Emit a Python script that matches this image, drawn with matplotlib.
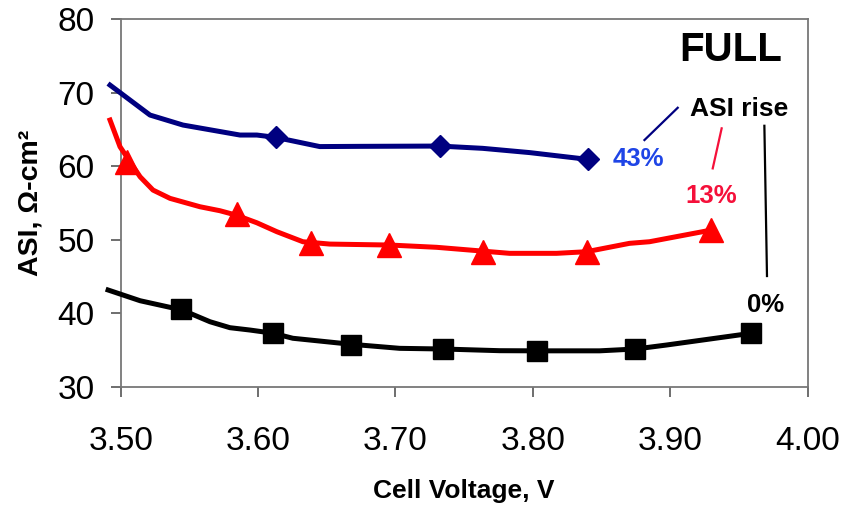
import matplotlib
matplotlib.use("Agg")
import matplotlib.pyplot as plt

plt.rcParams['font.family'] = ['Liberation Sans', 'DejaVu Sans']

# Smoothed ASI curves (cell voltage, V -> ASI, ohm-cm2)
v43_curve = [3.4922, 3.5213, 3.5453, 3.5868, 3.5991, 3.6129, 3.6449, 3.6740,
             3.7322, 3.7635, 3.7977, 3.8399]
asi43_curve = [71.05, 66.97, 65.61, 64.25, 64.25, 63.93, 62.68, 62.71,
               62.75, 62.44, 61.86, 60.94]

v13_curve = [3.4922, 3.4995, 3.5141, 3.5235, 3.5359, 3.5577, 3.5722, 3.5839,
             3.5991, 3.6137, 3.6326, 3.6522, 3.6958, 3.7300, 3.7831, 3.8173,
             3.8391, 3.8704, 3.8850, 3.9300]
asi13_curve = [66.29, 62.65, 58.57, 56.76, 55.63, 54.49, 53.95, 53.36,
               52.31, 51.09, 49.73, 49.41, 49.28, 48.97, 48.15, 48.15,
               48.37, 49.51, 49.73, 51.32]

v0_curve = [3.4908, 3.5141, 3.5359, 3.5439, 3.5504, 3.5650, 3.5795, 3.5941,
            3.6108, 3.6253, 3.6679, 3.7031, 3.7344, 3.7759, 3.8028, 3.8486,
            3.8748, 3.8973, 3.9591]
asi0_curve = [43.16, 41.70, 40.80, 40.54, 39.99, 38.84, 38.03, 37.71,
              37.28, 36.59, 35.77, 35.22, 35.13, 34.90, 34.88, 34.88,
              35.13, 35.67, 37.27]

# Measured points
v43_pts = [3.6127, 3.7322, 3.8400]
asi43_pts = [63.93, 62.75, 60.94]

v13_pts = [3.5044, 3.5844, 3.6384, 3.6953, 3.7640, 3.8391, 3.9298]
asi13_pts = [60.61, 53.50, 49.59, 49.28, 48.37, 48.37, 51.32]

v0_pts = [3.5437, 3.6109, 3.6679, 3.7347, 3.8031, 3.8746, 3.9589]
asi0_pts = [40.54, 37.28, 35.74, 35.13, 34.88, 35.16, 37.27]

x_ticks = [3.50, 3.60, 3.70, 3.80, 3.90, 4.00]
y_ticks = [30, 40, 50, 60, 70, 80]

NAVY = '#000080'
RED = '#FF0000'
BLACK = '#000000'

fig = plt.figure(figsize=(8.46, 5.07), dpi=100)
ax = fig.add_axes([0.1427, 0.2373, 0.8118, 0.7246])

ax.plot(v43_curve, asi43_curve, color=NAVY, lw=3.6, clip_on=False, zorder=3)
ax.plot(v13_curve, asi13_curve, color=RED, lw=3.6, clip_on=False, zorder=3)
ax.plot(v0_curve, asi0_curve, color=BLACK, lw=3.6, clip_on=False, zorder=3)

ax.plot(v43_pts, asi43_pts, ls='none', marker='D', ms=11, color=NAVY,
        clip_on=False, zorder=4)
ax.plot(v13_pts, asi13_pts, ls='none', marker='^', ms=17, color=RED,
        clip_on=False, zorder=4)
ax.plot(v0_pts, asi0_pts, ls='none', marker='s', ms=15, color=BLACK,
        clip_on=False, zorder=4)

ax.set_xlim(3.50, 4.00)
ax.set_ylim(30, 80)
ax.set_xticks(x_ticks)
ax.set_xticklabels([f"{t:.2f}" for t in x_ticks])
ax.set_yticks(y_ticks)

for s in ax.spines.values():
    s.set_color('#777777')
    s.set_linewidth(1.3)

ax.tick_params(axis='both', direction='out', length=7, width=1.2,
               color='#555555', labelsize=24)
ax.tick_params(axis='x', pad=21)
ax.tick_params(axis='y', pad=12)

ax.set_xlabel('Cell Voltage, V', fontsize=19, fontweight='bold', labelpad=16)
ax.set_ylabel('ASI, Ω-cm²', fontsize=20.5, fontweight='bold', labelpad=10)

# Annotations
ax.text(3.9439, 74.31, 'FULL', fontsize=29, fontweight='bold', ha='center',
        va='baseline')
ax.text(3.9504, 66.80, 'ASI rise', fontsize=19, fontweight='bold',
        ha='center', va='baseline')
ax.text(3.8770, 60.03, '43%', fontsize=18.5, fontweight='bold', ha='center',
        va='baseline', color='#1F45E6')
ax.text(3.9300, 54.95, '13%', fontsize=18.5, fontweight='bold', ha='center',
        va='baseline', color='#F5103A')
ax.text(3.9698, 40.20, '0%', fontsize=18.5, fontweight='bold', ha='center',
        va='baseline', color=BLACK)

ax.plot([3.8813, 3.9055], [63.57, 67.96], color=NAVY, lw=1.6)
ax.plot([3.9310, 3.9375], [59.71, 65.16], color='#F5103A', lw=1.6)
ax.plot([3.9686, 3.9705], [65.51, 45.06], color=BLACK, lw=1.6)

fig.savefig('out.png', dpi=100, facecolor='white')
